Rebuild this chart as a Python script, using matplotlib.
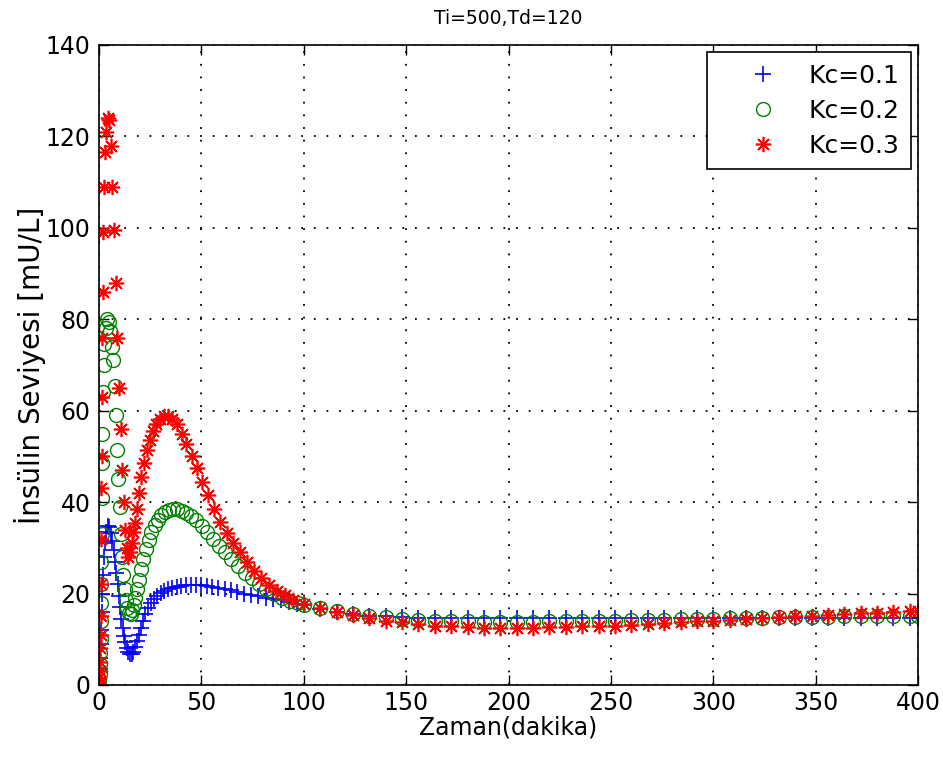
import matplotlib
matplotlib.use("Agg")
import matplotlib.pyplot as plt

plt.rcParams['font.family'] = ['DejaVu Sans']

# early part of each response (solver steps are dense at the start)
t1_early = [0, 0.2, 0.4, 0.6, 0.8, 1.0, 1.3, 1.6, 2.0, 2.5, 3.0, 3.6, 4.3, 5.0, 5.7, 6.4,
            7.1, 7.8, 8.5, 9.1, 9.7, 10.3, 10.9, 11.5, 12.1, 12.8, 13.5, 14.3, 15.1, 15.9,
            16.7, 17.5, 18.4, 19.3, 20.3, 21.4, 22.6, 23.9, 25.3, 26.8, 28.4, 30.1, 31.9,
            33.8, 35.8, 37.9, 40.1, 42.4, 44.8, 47.3, 49.9, 52.6, 55.4, 58.3, 61.3, 64.4,
            67.6, 70.9, 74.3, 77.8, 81.4, 85.1, 88.9, 92.8, 96.8]
y1_early = [0, 1.5, 3.5, 6, 9, 12, 16, 20, 24, 28, 31, 33.5, 34.8, 34.5, 33.2, 31.5,
            29.5, 27, 24.5, 22, 19.5, 17, 14.5, 12.5, 10.8, 9.3, 8.2, 7.3, 6.8, 6.8,
            7.3, 8.3, 9.6, 11, 12.5, 14, 15.5, 16.8, 17.9, 18.8, 19.5, 20.1, 20.6,
            21.0, 21.3, 21.5, 21.7, 21.8, 21.9, 21.9, 21.8, 21.7, 21.5, 21.3, 21.0, 20.7,
            20.3, 20.0, 19.7, 19.4, 19.1, 18.8, 18.5, 18.1, 17.8]

t2_early = [0, 0.15, 0.3, 0.45, 0.6, 0.75, 0.9, 1.0, 1.1, 1.2, 1.3, 1.4, 1.55, 1.7, 1.9,
            2.2, 2.6, 3.2, 4.0, 4.8, 5.6, 6.3, 7.0, 7.7, 8.3, 8.9, 9.5, 10.1, 10.7, 11.3,
            11.9, 12.5, 13.1, 13.8, 14.6, 15.4, 16.2, 17.0, 17.8, 18.7, 19.6, 20.6, 21.7,
            22.9, 24.2, 25.6, 27.1, 28.7, 30.4, 32.2, 34.1, 36.1, 38.2, 40.4, 42.7, 45.1,
            47.6, 50.2, 52.9, 55.7, 58.6, 61.6, 64.7, 67.9, 71.2, 74.6, 78.1, 81.7, 85.4,
            89.2, 93.1, 97.1]
y2_early = [0, 1, 2.5, 4.5, 7, 10, 14, 18, 22, 27, 33, 41, 48.5, 55, 64,
            70, 74.5, 78, 80, 79.5, 77.5, 74, 71, 65.5, 59, 51.5, 45, 39, 33, 28,
            24, 21, 18.5, 16.8, 15.8, 15.6, 16.3, 17.5, 19, 21, 23, 25.3, 27.5,
            29.8, 31.8, 33.5, 35, 36.2, 37.2, 37.9, 38.3, 38.5, 38.4, 38.1, 37.6, 36.9,
            36, 34.8, 33.4, 32, 30.5, 29, 27.5, 26, 24.6, 23.3, 22.1, 21, 20,
            19.1, 18.4, 17.9]

t3_early = [0, 0.15, 0.3, 0.45, 0.6, 0.75, 0.9, 1.0, 1.1, 1.2, 1.3, 1.45, 1.6, 1.8, 2.0,
            2.4, 2.9, 3.5, 4.2, 5.0, 5.8, 6.5, 7.3, 8.2, 9.0, 9.8, 10.6, 11.4, 12.1, 12.8,
            13.6, 14.4, 15.2, 16.0, 16.8, 17.6, 18.5, 19.5, 20.6, 21.8, 23.2, 24.7, 26.3,
            28.0, 29.8, 31.7, 33.7, 35.8, 38.0, 40.3, 42.7, 45.2, 47.8, 50.5, 53.3, 56.2,
            59.2, 62.3, 65.5, 68.8, 72.2, 75.7, 79.3, 83.0, 86.8, 90.7, 94.7]
y3_early = [0, 1.5, 3, 5, 8, 11, 15, 22, 32, 43, 50, 63, 76, 86, 99,
            109, 116.5, 121, 124, 123.5, 118, 109, 99.5, 88, 76, 65, 56, 47, 40, 34,
            30, 28, 29, 31, 33.5, 35.5, 38.5, 42, 45.5, 48.5, 51.5, 53.5, 55.5,
            57, 58.2, 58.8, 58.8, 58.2, 57, 55, 52.8, 50.2, 47.5, 44.5, 41.5, 38.5,
            35.7, 33.2, 31, 29, 26.8, 25, 23.3, 21.8, 20.6, 19.6, 18.7]

# settled part, roughly equal steps
t_tail = [100, 108, 116, 124, 132, 140, 148, 156, 164, 172, 180, 188, 196, 204, 212,
          220, 228, 236, 244, 252, 260, 268, 276, 284, 292, 300, 308, 316, 324, 332,
          340, 348, 356, 364, 372, 380, 388, 396, 400]
y1_tail = [17.6, 16.7, 16.0, 15.5, 15.2, 15.0, 14.8, 14.7, 14.7, 14.6, 14.6, 14.6, 14.6,
           14.6, 14.6, 14.6, 14.6, 14.6, 14.6, 14.6, 14.6, 14.6, 14.6, 14.6, 14.6, 14.6,
           14.6, 14.6, 14.6, 14.6, 14.6, 14.6, 14.6, 14.6, 14.6, 14.6, 14.6, 14.6, 14.6]
y2_tail = [17.6, 16.8, 16.1, 15.6, 15.2, 14.8, 14.5, 14.3, 14.1, 14.0, 13.9, 13.8, 13.8,
           13.8, 13.8, 13.9, 13.9, 14.0, 14.0, 14.1, 14.2, 14.2, 14.3, 14.4, 14.4, 14.5,
           14.6, 14.6, 14.7, 14.8, 14.8, 14.9, 14.9, 15.0, 15.0, 15.1, 15.1, 15.2, 15.2]
y3_tail = [17.8, 16.8, 16.0, 15.3, 14.6, 14.1, 13.7, 13.4, 13.0, 12.8, 12.6, 12.5, 12.5,
           12.5, 12.5, 12.6, 12.7, 12.8, 12.9, 13.0, 13.2, 13.4, 13.6, 13.8, 13.9, 14.1,
           14.3, 14.5, 14.7, 14.9, 15.0, 15.2, 15.4, 15.5, 15.7, 15.8, 16.0, 16.1, 16.2]

labels = ['Kc=0.1', 'Kc=0.2', 'Kc=0.3']

fig = plt.figure(figsize=(9.43, 7.6), dpi=100)
ax = fig.add_axes([0.105, 0.0987, 0.8685, 0.8421])

ax.plot(t1_early + t_tail, y1_early + y1_tail, linestyle='none', marker='+',
        markersize=12, markeredgewidth=1.2, color=(0, 0, 1), label=labels[0])
ax.plot(t2_early + t_tail, y2_early + y2_tail, linestyle='none', marker='o',
        markersize=10, markeredgewidth=1.0, markerfacecolor='none',
        markeredgecolor=(0, 0.5, 0), color=(0, 0.5, 0), label=labels[1])
ax.plot(t3_early + t_tail, y3_early + y3_tail, linestyle='none', marker=(8, 2, 0),
        markersize=11, markeredgewidth=1.2, color=(1, 0, 0), label=labels[2])

ax.set_xlim(0, 400)
ax.set_ylim(0, 140)
ax.set_xticks(range(0, 401, 50))
ax.set_yticks(range(0, 141, 20))
ax.grid(True, linestyle=(0, (1, 6)), color='black', linewidth=1.3)
ax.tick_params(direction='in', top=True, right=True, length=7, width=1, labelsize=17)
ax.tick_params(axis='x', pad=4)
ax.tick_params(axis='y', pad=6)
for s in ax.spines.values():
    s.set_linewidth(1.2)

ax.set_title('Ti=500,Td=120', fontsize=13.5, pad=15)
ax.set_xlabel('Zaman(dakika)', fontsize=17, labelpad=1)
ax.set_ylabel('İnsülin Seviyesi [mU/L]', fontsize=20, labelpad=0)

leg = ax.legend(loc='upper right', fontsize=18, fancybox=False, framealpha=1,
                edgecolor='black', borderaxespad=0.3, handlelength=3.6,
                handletextpad=0.0, borderpad=0.45, labelspacing=0.45)
leg.get_frame().set_linewidth(1.2)

fig.savefig('out.png', dpi=100)
